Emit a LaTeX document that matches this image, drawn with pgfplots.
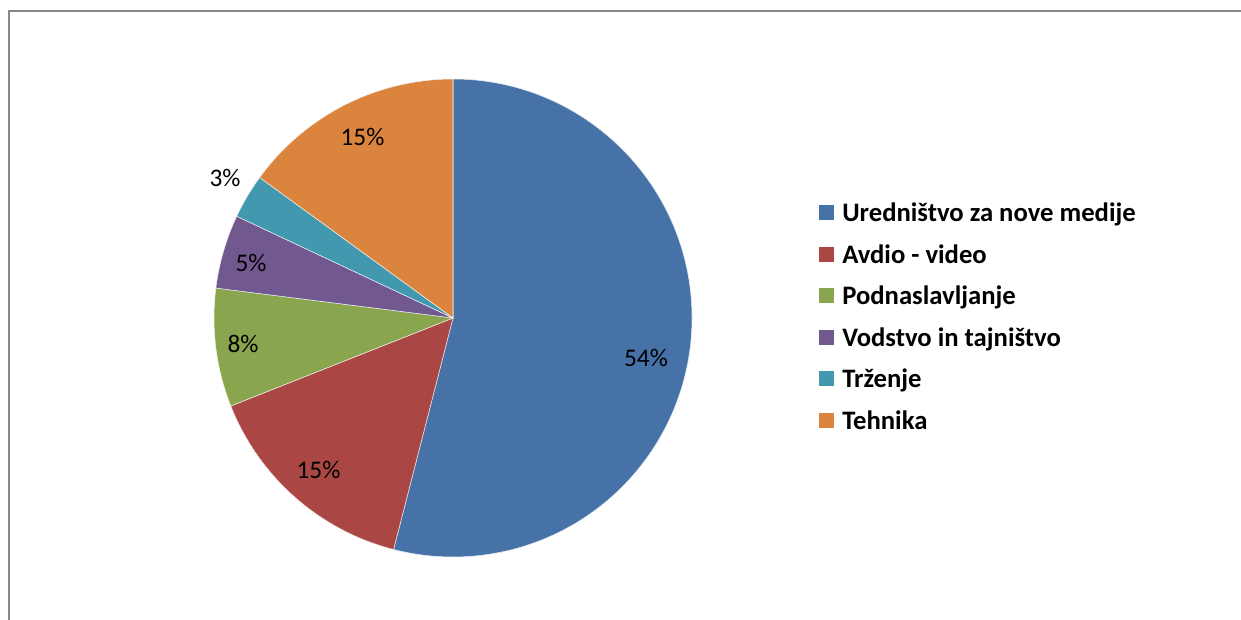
\documentclass[border=0pt]{standalone}
\usepackage{pgfplots}
\pgfplotsset{compat=1.18}
\usepackage{fontspec}
\setmainfont{Carlito}
\definecolor{cA}{HTML}{4672A8}
\definecolor{cB}{HTML}{AA4643}
\definecolor{cC}{HTML}{89A54E}
\definecolor{cD}{HTML}{71588F}
\definecolor{cE}{HTML}{4198AF}
\definecolor{cF}{HTML}{DB843D}
\definecolor{frame}{HTML}{878787}
\pgfdeclarelayer{bg}
\pgfsetlayers{bg,main}
\begin{document}
\begin{tikzpicture}[x=0.75pt,y=0.75pt]
\useasboundingbox (0,0) rectangle (1241,619);
\begin{axis}[at={(0,0)},anchor=south west, scale only axis,
  width=930.75pt, height=464.25pt,
  xmin=0,xmax=1241,ymin=0,ymax=619, y dir=reverse,
  hide axis, clip=false]
\coordinate (C) at (axis cs:453,318);
% frame
\draw[frame, line width=1.5pt] (axis cs:9,640) -- (axis cs:9,10.5) -- (axis cs:1260,10.5);
% data labels
\def\lab{\fontsize{19}{22}\selectfont}
\node[anchor=base, inner sep=0pt] at (axis cs:646,366) {\lab 54\%};
\node[anchor=base, inner sep=0pt] at (axis cs:318.5,478) {\lab 15\%};
\node[anchor=base, inner sep=0pt] at (axis cs:243,352.5) {\lab 8\%};
\node[anchor=base, inner sep=0pt] at (axis cs:251,271.7) {\lab 5\%};
\node[anchor=base, inner sep=0pt] at (axis cs:225,186) {\lab 3\%};
\node[anchor=base, inner sep=0pt] at (axis cs:362.5,145.7) {\lab 15\%};
% legend
\def\leg{\fontsize{20}{23}\selectfont\bfseries}
\foreach \yy/\cc/\tt in {212/cA/{Uredništvo za nove medije},254/cB/{Avdio - video},295/cC/{Podnaslavljanje},337/cD/{Vodstvo in tajništvo},378/cE/{Trženje},420/cF/{Tehnika}}{
  \edef\temp{\noexpand\fill[\cc] (axis cs:819,\yy-7.5) rectangle (axis cs:834,\yy+7.5);
  \noexpand\node[anchor=base west, inner sep=0pt] at (axis cs:842,\yy+9.7) {\noexpand\leg \unexpanded\expandafter{\tt}};}
  \temp
}
\end{axis}
\begin{pgfonlayer}{bg}
\gdef\s{90}
\foreach \v/\c in {54/cA,15/cB,8/cC,5/cD,3/cE,15/cF}{
  \pgfmathsetmacro\e{\s-3.6*\v}
  \filldraw[fill=\c, draw=white!85!\c, line width=0.4pt] (C) -- ++(\s:179.25pt) arc[start angle=\s, end angle=\e, radius=179.25pt] -- cycle;
  \xdef\s{\e}
}
\end{pgfonlayer}
\end{tikzpicture}
\end{document}
